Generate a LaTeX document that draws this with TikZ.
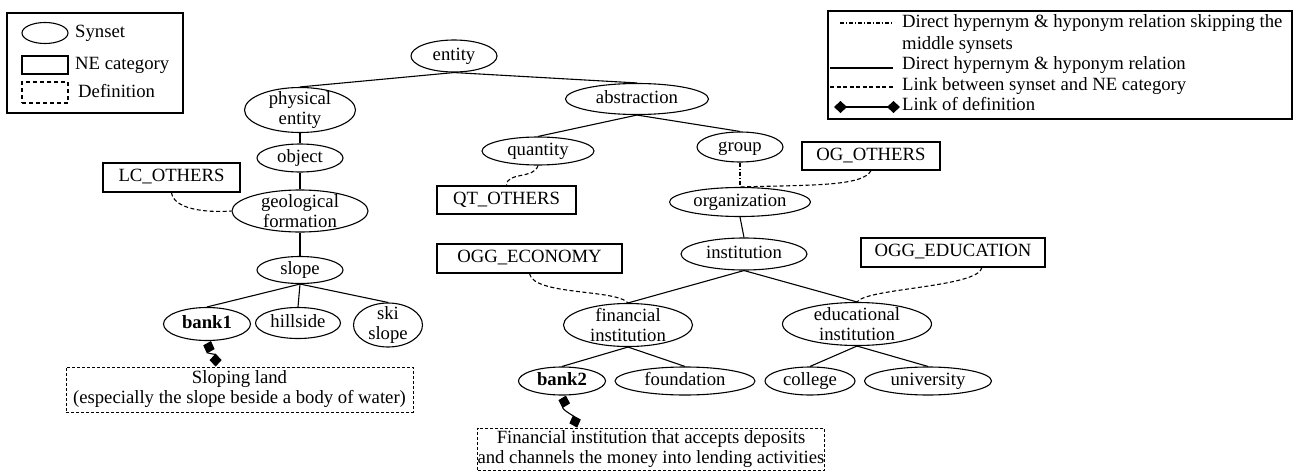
\documentclass[tikz,border=0pt]{standalone}
\usepackage{fontspec}
\setmainfont{Liberation Serif}
\usetikzlibrary{shapes.geometric,arrows.meta}
\begin{document}
\begin{tikzpicture}[x=1pt,y=-1pt,
  font=\fontsize{18.7}{20}\selectfont,
  sz/.style 2 args={minimum width=#1pt,minimum height=#2pt},
  one/.style={text height=12.5pt,text depth=4pt},
  syn/.style={ellipse,draw,line width=1.1pt,inner xsep=0pt,inner ysep=-8pt,align=center},
  ne/.style={rectangle,draw,line width=1.1pt,inner sep=0pt,one},
  defbox/.style={rectangle,draw,line width=0.8pt,dash pattern=on 3pt off 2pt,inner sep=0pt,align=center},
  edge/.style={line width=1.1pt},
  skip/.style={line width=1.1pt,dash pattern=on 4pt off 2pt on 1pt off 2pt},
  nelink/.style={line width=1.1pt,dash pattern=on 4pt off 2.5pt},
  deflink/.style={line width=1.1pt,{Diamond[length=13pt,width=12pt]}-{Diamond[length=13pt,width=12pt]}},
  lgtext/.style={anchor=west,inner sep=0pt,text height=13pt,text depth=4pt},
  lgbox/.style={draw,line width=1.3pt,inner sep=0pt}
]
\useasboundingbox (0,0) rectangle (1294,471);

% ---- left legend
\node[lgbox,sz={176}{100}] (lgL) at (95,63) {};
\node[ellipse,draw,line width=1.1pt,inner sep=0pt,sz={46}{21}] (lgE) at (45,33) {};
\node[lgtext] (lgEt) at (75,33) {Synset};
\node[draw,line width=1.1pt,inner sep=0pt,sz={46}{18}] (lgR) at (45,65) {};
\node[lgtext] (lgRt) at (75,65) {NE category};
\node[draw,line width=1.3pt,dash pattern=on 4pt off 3pt,inner sep=0pt,sz={46}{21}] (lgD) at (45,92.5) {};
\node[lgtext] (lgDt) at (78,93) {Definition};

% ---- right legend
\node[lgbox,sz={464}{108}] (lgRB) at (1060,65) {};
\coordinate (l1a) at (840,23); \coordinate (l1b) at (893,23);
\coordinate (l2a) at (830,68); \coordinate (l2b) at (893,68);
\coordinate (l3a) at (830,87); \coordinate (l3b) at (893,87);
\coordinate (l4a) at (834,107); \coordinate (l4b) at (900,107);
\draw[skip] (l1a) -- (l1b);
\draw[edge] (l2a) -- (l2b);
\draw[nelink] (l3a) -- (l3b);
\draw[deflink] (l4a) -- (l4b);
\node[lgtext] (t1) at (902,23) {Direct hypernym \& hyponym relation skipping the};
\node[lgtext] (t2) at (902,45) {middle synsets};
\node[lgtext] (t3) at (902,65) {Direct hypernym \& hyponym relation};
\node[lgtext] (t4) at (902,86) {Link between synset and NE category};
\node[lgtext] (t5) at (902,106) {Link of definition};

% ---- synsets
\node[syn,one,sz={86}{32}] (ent) at (454,56) {entity};
\node[syn,sz={111}{45}] (phys) at (300,110) {physical\\entity};
\node[syn,one,sz={143}{31}] (abst) at (637,99) {abstraction};
\node[syn,one,sz={86}{28}] (obj) at (300,158) {object};
\node[syn,sz={136}{42}] (geo) at (300,211) {geological\\formation};
\node[syn,one,sz={86}{27}] (slope) at (300,270) {slope};
\node[syn,one,sz={87}{33}] (bank1) at (207,324) {\textbf{bank1}};
\node[syn,one,sz={85}{31}] (hill) at (298,323) {hillside};
\node[syn,sz={69}{44}] (ski) at (388,325) {ski\\slope};
\node[syn,one,sz={112}{28}] (quant) at (538,151) {quantity};
\node[syn,one,sz={86}{30}] (group) at (740,147) {group};
\node[syn,one,sz={141}{29}] (org) at (740,202) {organization};
\node[syn,one,sz={126}{32}] (inst) at (744,254) {institution};
\node[syn,sz={129}{43}] (fin) at (628,325) {financial\\institution};
\node[syn,sz={149}{43}] (edu) at (857,324) {educational\\institution};
\node[syn,one,sz={87}{28}] (bank2) at (562,381) {\textbf{bank2}};
\node[syn,one,sz={140}{28}] (found) at (685,381) {foundation};
\node[syn,one,sz={90}{28}] (coll) at (810,381) {college};
\node[syn,one,sz={127}{28}] (univ) at (928,381) {university};

% ---- NE categories
\node[ne,sz={137}{29}] (lc) at (171.5,177.5) {LC\_OTHERS};
\node[ne,sz={139}{28}] (qt) at (506.5,200) {QT\_OTHERS};
\node[ne,sz={138}{28}] (og) at (871,156) {OG\_OTHERS};
\node[ne,sz={185}{29}] (ogge) at (529.5,258.5) {OGG\_ECONOMY};
\node[ne,sz={184}{29}] (ogged) at (953,252.5) {OGG\_EDUCATION};

% ---- definitions
\node[defbox,sz={347}{45}] (def1) at (239.5,389.5) {Sloping land\\(especially the slope beside a body of water)};
\node[defbox,sz={338}{42}] (def2) at (651,449) {Financial institution that accepts deposits\\and channels the money into lending activities};

% ---- hierarchy edges
\draw[edge] (ent.south) -- (phys.north);
\draw[edge] (ent.south) -- (abst.north);
\draw[edge] (phys.south) -- (obj.north);
\draw[edge] (obj.south) -- (geo.north);
\draw[edge] (geo.south) -- (slope.north);
\draw[edge] (slope.south) -- (bank1.north);
\draw[edge] (slope.south) -- (hill.north);
\draw[edge] (slope.south) -- (ski.north);
\draw[edge] (abst.south) -- (quant.north);
\draw[edge] (abst.south) -- (group.north);
\draw[skip] (group.south) -- (org.north);
\draw[edge] (org.south) -- (inst.north);
\draw[edge] (inst.south) -- (fin.north);
\draw[edge] (inst.south) -- (edu.north);
\draw[edge] (fin.south) -- (bank2.north);
\draw[edge] (fin.south) -- (found.north);
\draw[edge] (edu.south) -- (coll.north);
\draw[edge] (edu.south) -- (univ.north);

% ---- NE links
\draw[nelink] (lc.south) .. controls +(2,16) and +(-28,2) .. (geo.west);
\draw[nelink] (quant.south) .. controls +(-4,14) and +(0,-14) .. (qt.north);
\draw[nelink] (og.south) .. controls +(-8,16) and +(70,-2) .. (org.north);
\draw[nelink] (ogge.south) .. controls +(4,22) and +(-12,-14) .. (fin.north);
\draw[nelink] ([xshift=29pt]ogged.south) .. controls +(-4,20) and +(10,-14) .. (edu.north);

% ---- definition links
\draw[deflink] ([xshift=4pt]bank1.south) .. controls +(-4,12) and +(0,-12) .. ([xshift=150pt]def1.north west);
\draw[deflink] ([xshift=4pt]bank2.south) .. controls +(-4,14) and +(-4,-12) .. ([xshift=100pt]def2.north west);
\end{tikzpicture}
\end{document}
